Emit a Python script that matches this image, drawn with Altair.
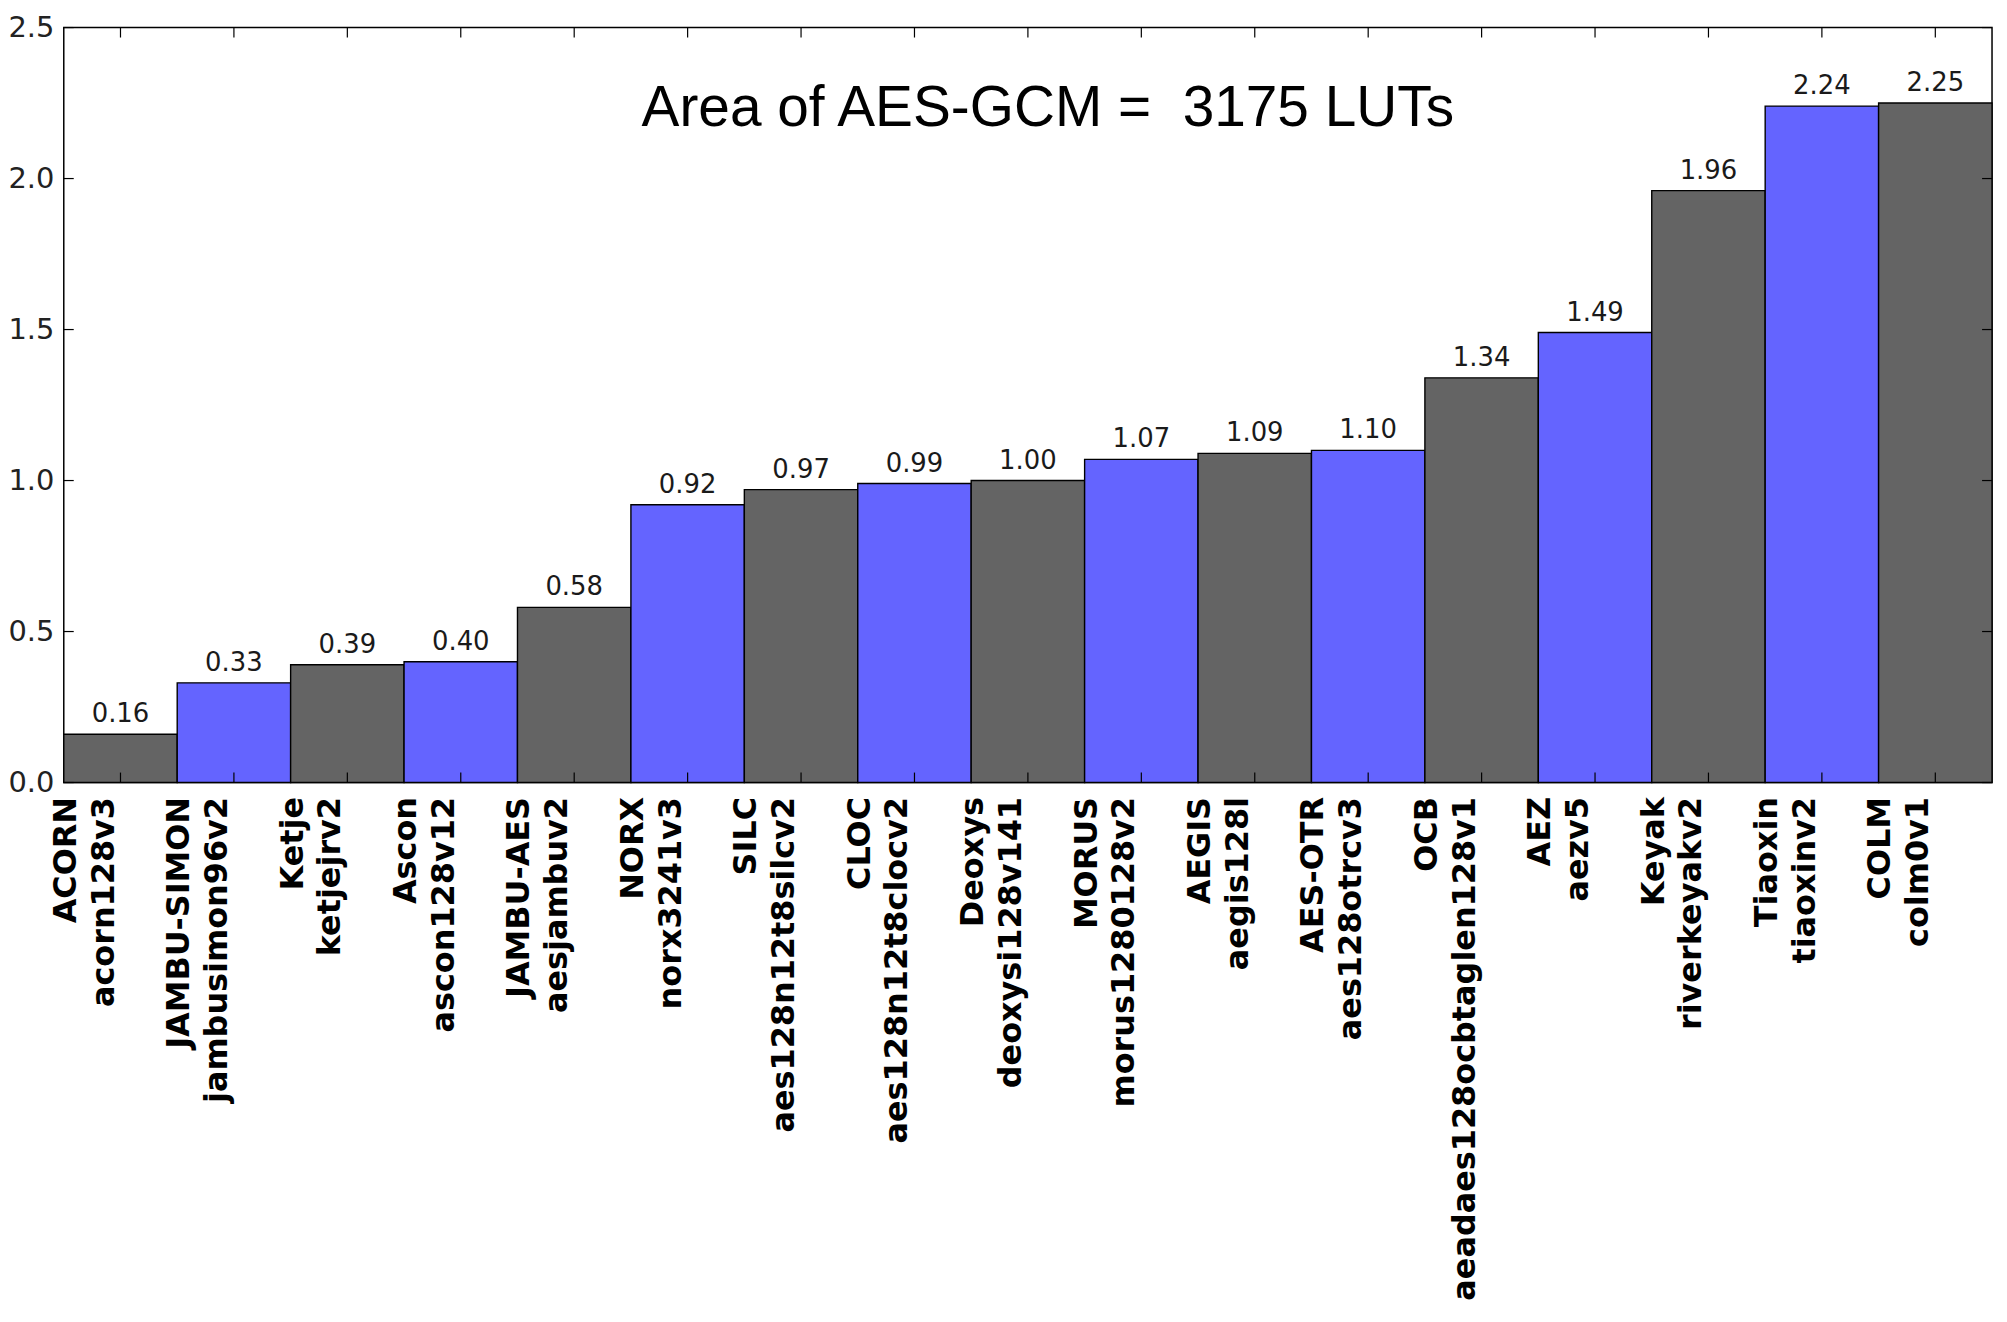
import altair as alt
import pandas as pd

names = ["ACORN", "JAMBU-SIMON", "Ketje", "Ascon", "JAMBU-AES", "NORX", "SILC", "CLOC",
         "Deoxys", "MORUS", "AEGIS", "AES-OTR", "OCB", "AEZ", "Keyak", "Tiaoxin", "COLM"]
impls = ["acorn128v3", "jambusimon96v2", "ketjejrv2", "ascon128v12", "aesjambuv2", "norx3241v3",
         "aes128n12t8silcv2", "aes128n12t8clocv2", "deoxysi128v141", "morus1280128v2", "aegis128l",
         "aes128otrcv3", "aeadaes128ocbtaglen128v1", "aezv5", "riverkeyakv2", "tiaoxinv2", "colm0v1"]
ratios = [0.16, 0.33, 0.39, 0.40, 0.58, 0.92, 0.97, 0.99, 1.00, 1.07, 1.09, 1.10, 1.34, 1.49,
          1.96, 2.24, 2.25]
y_ticks = [0.0, 0.5, 1.0, 1.5, 2.0, 2.5]
title_text = "Area of AES-GCM = \u00a03175 LUTs"

W, H = 1936, 758
GRAY, BLUE = "#646464", "#6464ff"

df = pd.DataFrame({
    "label": [f"{n}|{s}" for n, s in zip(names, impls)],
    "ratio": ratios,
})
df["parity"] = [i % 2 for i in range(len(df))]

xscale = alt.Scale(paddingInner=0, paddingOuter=0)
yscale = alt.Scale(domain=[0, 2.5], nice=False, zero=True)

xaxis = alt.Axis(labelExpr="split(datum.label, '|')", labelAngle=-90,
                 labelAlign="right", labelBaseline="bottom",
                 labelFont="DejaVu Sans", labelFontWeight="bold",
                 labelFontSize=32, labelLineHeight=38, labelPadding=14,
                 labelOffset=-38,
                 labelColor="black", labelLimit=0, labelOverlap=False,
                 labelBound=False, labelFlush=False,
                 domain=False, ticks=False, tickSize=0, grid=False)
yaxis = alt.Axis(values=y_ticks, format=".1f", labelFont="DejaVu Sans",
                 labelFontSize=29, labelColor="#222222", labelPadding=10,
                 domain=False, ticks=False, tickSize=0, grid=False)


def X():
    return alt.X("label:N", sort=None, scale=xscale, title=None, axis=xaxis)


def Y(field):
    return alt.Y(field, scale=yscale, title=None, axis=yaxis)


base = alt.Chart(df)

bars = base.mark_bar(stroke="black", strokeWidth=1.4).encode(
    x=X(),
    y=Y("ratio:Q"),
    color=alt.Color("parity:N", scale=alt.Scale(domain=[0, 1], range=[GRAY, BLUE]), legend=None),
)

values = base.mark_text(baseline="bottom", dy=-7, fontSize=26, font="DejaVu Sans",
                        color="#1a1a1a").encode(
    x=X(),
    y=Y("ratio:Q"),
    text=alt.Text("ratio:Q", format=".2f"),
)

ydf = pd.DataFrame({"v": y_ticks})
ytick_l = alt.Chart(ydf).mark_rule(color="black", strokeWidth=1.2).encode(
    y=Y("v:Q"), x=alt.value(0), x2=alt.value(10))
ytick_r = alt.Chart(ydf).mark_rule(color="black", strokeWidth=1.2).encode(
    y=Y("v:Q"), x=alt.value(W - 10), x2=alt.value(W))

xtick_b = base.mark_rule(color="black", strokeWidth=1.2).encode(
    x=X(), y=alt.value(H), y2=alt.value(H - 10))
xtick_t = base.mark_rule(color="black", strokeWidth=1.2).encode(
    x=X(), y=alt.value(0), y2=alt.value(10))

title = alt.Chart(pd.DataFrame({"t": [title_text]})).mark_text(
    font="Liberation Sans, Arial, sans-serif",
    fontSize=57, align="center", baseline="alphabetic", color="black").encode(
    x=alt.value(988), y=alt.value(99), text="t:N")

chart = alt.layer(bars, values, ytick_l, ytick_r, xtick_b, xtick_t, title).properties(
    width=W, height=H,
    padding={"left": 56, "top": 17, "right": 7, "bottom": 538},
    autosize=alt.AutoSizeParams(type="none"),
).configure_view(stroke="black", strokeWidth=1.5)

chart.save("out.html", embed_options={"renderer": "svg", "actions": False})
